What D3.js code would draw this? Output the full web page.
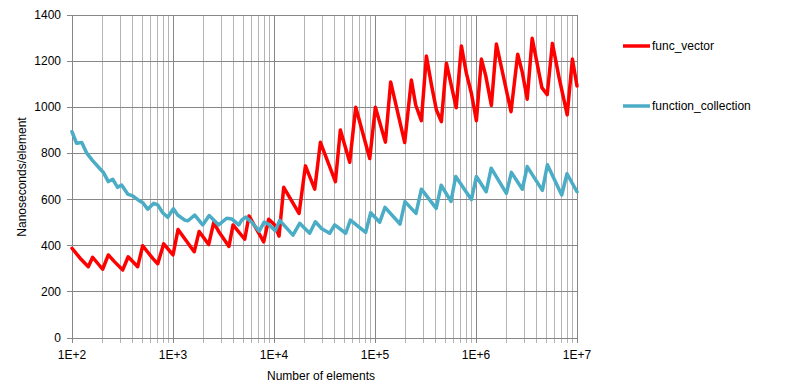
<!DOCTYPE html>
<html>
<head>
<meta charset="utf-8">
<script src="https://cdn.jsdelivr.net/npm/d3@7"></script>
<style>
  body { margin: 0; background: #fff; }
  svg text { font-family: "Liberation Sans", Arial, sans-serif; fill: #000; font-size: 12px; }
</style>
</head>
<body>
<svg id="chart" width="795" height="390"></svg>
<script>
// element counts and ns/element at the line's corners
const vectorN  = [100, 123, 145, 160, 201, 229, 263, 318, 360, 447, 501, 630, 706, 809,
  1000, 1122, 1622, 1816, 2254, 2529, 2833, 3583, 3926, 5129, 5653, 7907, 8872,
  10170, 11220, 12480, 17690, 20480, 25300, 28790, 40550, 45400, 56200, 64430, 88700,
  100900, 126800, 142900, 196800, 229100, 252900, 287800, 322700, 362200, 405800, 454000,
  509300, 636800, 716400, 803600, 900100, 1009000, 1131000, 1248000, 1420000, 1592000,
  2222000, 2588000, 2878000, 3214000, 3599000, 4490000, 5070000, 5707000, 6637000,
  8000000, 9000000, 10000000];
const vectorNs = [389, 341, 309, 350, 298, 360, 331, 295, 352, 309, 400, 345, 322, 408,
  360, 470, 374, 462, 405, 500, 462, 397, 490, 428, 529, 417, 515,
  490, 442, 653, 540, 746, 645, 848, 678, 902, 762, 1000, 778,
  1000, 849, 1110, 847, 1118, 1010, 942, 1222, 1097, 988, 938,
  1191, 998, 1266, 1147, 1061, 942, 1209, 1137, 1008, 1274,
  981, 1230, 1150, 1035, 1299, 1085, 1055, 1277, 1130,
  967, 1209, 1092];

const collectionN  = [100, 111, 125, 140, 160, 194, 205, 229, 253, 283, 310, 356, 399, 465,
  501, 562, 645, 706, 791, 887, 1009, 1113, 1306, 1408, 1641, 1968, 2282, 2835, 3402,
  3811, 4470, 4790, 5248, 6012, 7129, 7998, 8863, 10280, 11380, 15420, 17960, 22550,
  25700, 29450, 35590, 39900, 51280, 57050, 80880, 90630, 111400, 125600, 176900, 198200,
  254600, 287900, 403600, 452100, 565300, 629500, 900000, 1009000, 1262000, 1414000,
  2000000, 2241000, 2878000, 3214000, 4541000, 5093000, 7058000, 7962000, 10000000];
const collectionNs = [894, 844, 847, 801, 769, 728, 717, 678, 688, 653, 663, 624, 616, 594,
  587, 558, 584, 577, 543, 523, 560, 533, 511, 508, 533, 490, 531, 490, 519,
  516, 490, 511, 524, 502, 463, 502, 493, 465, 510, 446, 497, 454,
  504, 475, 454, 490, 454, 511, 458, 543, 502, 566, 494, 591,
  540, 645, 562, 662, 592, 700, 600, 700, 634, 736,
  627, 718, 645, 743, 640, 751, 620, 712, 634];

const xTickLabels = ["1E+2", "1E+3", "1E+4", "1E+5", "1E+6", "1E+7"];
const yTicks      = [0, 200, 400, 600, 800, 1000, 1200, 1400];
const seriesNames = ["func_vector", "function_collection"];
const seriesColors = ["#ff0000", "#4bacc6"];

const svg = d3.select("#chart"),
  plotLeft = 72, plotRight = 577, plotTop = 15, plotBottom = 338;

const x = d3.scaleLog().domain([1e2, 1e7]).range([plotLeft, plotRight]),
  y = d3.scaleLinear().domain([0, 1400]).range([plotBottom, plotTop]);

// vertical grid: minor at 2..9 of each decade, major at decades
const minorX = [];
for (let d = 2; d < 7; d++) for (let k = 2; k <= 9; k++) minorX.push(k * Math.pow(10, d));
const majorX = xTickLabels.map((t, i) => Math.pow(10, i + 2));

svg.append("g").selectAll("line").data(minorX).join("line")
  .attr("x1", d => x(d)).attr("x2", d => x(d))
  .attr("y1", plotTop).attr("y2", plotBottom + 5)
  .attr("stroke", "#b4b4b4").attr("stroke-width", 1).attr("shape-rendering", "crispEdges");

svg.append("g").selectAll("line").data(yTicks).join("line")
  .attr("x1", plotLeft - 5).attr("x2", plotRight)
  .attr("y1", d => y(d)).attr("y2", d => y(d))
  .attr("stroke", "#878787").attr("stroke-width", 1).attr("shape-rendering", "crispEdges");

svg.append("g").selectAll("line").data(majorX).join("line")
  .attr("x1", d => x(d)).attr("x2", d => x(d))
  .attr("y1", plotTop).attr("y2", plotBottom + 5)
  .attr("stroke", "#878787").attr("stroke-width", 1).attr("shape-rendering", "crispEdges");

// tick labels
svg.append("g").selectAll("text").data(yTicks).join("text")
  .attr("x", plotLeft - 11).attr("y", d => y(d) + 4)
  .attr("text-anchor", "end")
  .text(d => d);

svg.append("g").selectAll("text").data(majorX).join("text")
  .attr("x", d => x(d)).attr("y", plotBottom + 21)
  .attr("text-anchor", "middle")
  .text((d, i) => xTickLabels[i]);

// axis titles
svg.append("text").attr("x", 321).attr("y", 380)
  .attr("text-anchor", "middle").text("Number  of elements");
svg.append("text").attr("transform", "translate(26,177) rotate(-90)")
  .attr("text-anchor", "middle").text("Nanoseconds/element");

// series
const line = d3.line().x(d => x(d[0])).y(d => y(d[1]));
const series = [d3.zip(vectorN, vectorNs), d3.zip(collectionN, collectionNs)];

svg.append("g").selectAll("path").data(series).join("path")
  .attr("d", line)
  .attr("fill", "none")
  .attr("stroke", (d, i) => seriesColors[i])
  .attr("stroke-width", 3.5)
  .attr("stroke-linejoin", "round")
  .attr("stroke-linecap", "round");

// legend
const legend = svg.append("g").selectAll("g").data(seriesNames).join("g")
  .attr("transform", (d, i) => "translate(623," + (46 + i * 60) + ")");
legend.append("line").attr("x1", 0).attr("x2", 27)
  .attr("stroke", (d, i) => seriesColors[i]).attr("stroke-width", 3.5);
legend.append("text").attr("x", 29).attr("y", 4).text(d => d);
</script>
</body>
</html>
